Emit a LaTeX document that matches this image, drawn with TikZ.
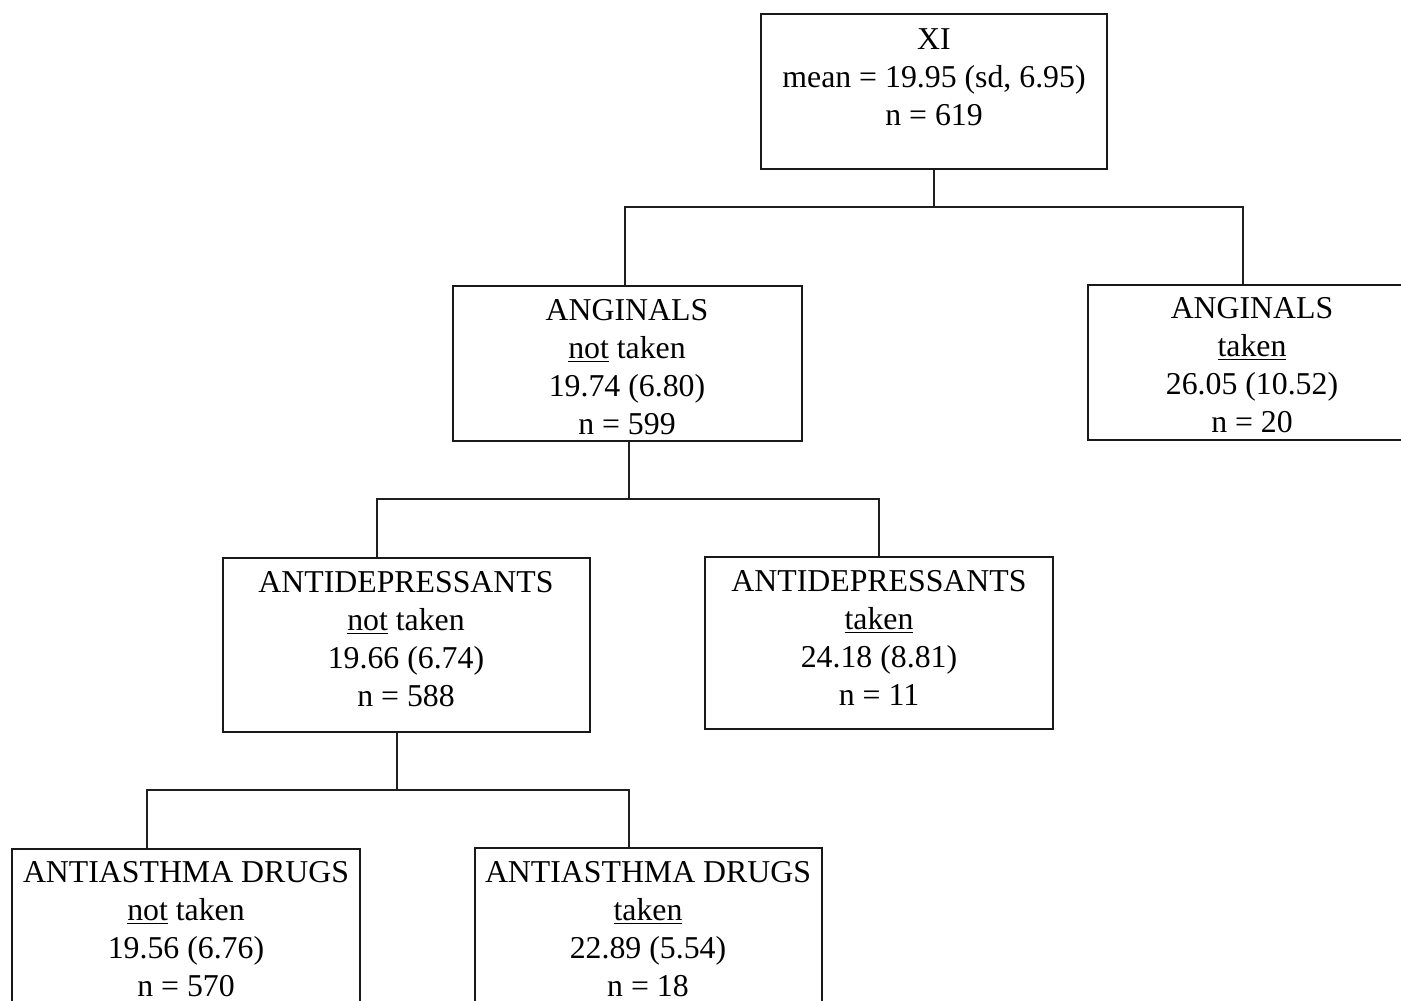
\documentclass[tikz,border=0pt]{standalone}
\usepackage{fontspec}
\setmainfont{Liberation Serif}
\begin{document}
\begin{tikzpicture}[x=0.5pt,y=-0.5pt,
  box/.style={draw=black!90,line width=1.35pt,rectangle,inner sep=0pt},
  lbl/.style={anchor=north,align=center,inner sep=0pt,
    font=\fontsize{15.9}{19}\selectfont,text=black,
    execute at begin node={\rule{0pt}{12pt}}},
  link/.style={draw=black!88,line width=1pt}]
\fill[white] (0,0) rectangle (1401,1000);
\clip (0,0) rectangle (1401,1000);

% bus levels of the tree
\coordinate (b1) at (0,207);
\coordinate (b2) at (0,499);
\coordinate (b3) at (0,790);

% boxes
\node[box,minimum width=173pt,minimum height=77.5pt] (root) at (934,91.5) {};
\node[box,minimum width=174.5pt,minimum height=77.5pt] (angnot) at (627.5,363.5) {};
\node[box,minimum width=161pt,minimum height=77.5pt] (angtak) at (1249,362.5) {};
\node[box,minimum width=183.5pt,minimum height=87pt] (adnot) at (406.5,645) {};
\node[box,minimum width=174pt,minimum height=86pt] (adtak) at (879,643) {};
\node[box,minimum width=174pt,minimum height=90.5pt] (asnot) at (186,939.5) {};
\node[box,minimum width=173.5pt,minimum height=91pt] (astak) at (648.5,939) {};

% texts
\node[lbl] (root-t) at (934,28) {XI\\mean = 19.95 (sd, 6.95)\\n = 619};
\node[lbl] (angnot-t) at (627,299) {ANGINALS\\\underline{not} taken\\19.74 (6.80)\\n = 599};
\node[lbl] (angtak-t) at (1252,297) {ANGINALS\\\underline{taken}\\26.05 (10.52)\\n = 20};
\node[lbl] (adnot-t) at (406,571) {ANTIDEPRESSANTS\\\underline{not} taken\\19.66 (6.74)\\n = 588};
\node[lbl] (adtak-t) at (879,570) {ANTIDEPRESSANTS\\\underline{taken}\\24.18 (8.81)\\n = 11};
\node[lbl] (asnot-t) at (186,861) {ANTIASTHMA DRUGS\\\underline{not} taken\\19.56 (6.76)\\n = 570};
\node[lbl] (astak-t) at (648,861) {ANTIASTHMA DRUGS\\\underline{taken}\\22.89 (5.54)\\n = 18};

% connectors
\draw[link] (root.south) -- (root.south |- b1);
\draw[link] ([xshift=-1.25pt]angnot.north) |- ([xshift=-3pt]angtak.north |- b1)
  -- ([xshift=-3pt]angtak.north);

\draw[link] ([xshift=0.5pt]angnot.south) -- ([xshift=0.5pt]angnot.south |- b2);
\draw[link] ([xshift=-14.75pt]adnot.north) |- (adtak.north |- b2) -- (adtak.north);

\draw[link] ([xshift=-4.75pt]adnot.south) -- ([xshift=-4.75pt]adnot.south |- b3);
\draw[link] ([xshift=-19.5pt]asnot.north) |- ([xshift=-9.75pt]astak.north |- b3)
  -- ([xshift=-9.75pt]astak.north);
\end{tikzpicture}
\end{document}
